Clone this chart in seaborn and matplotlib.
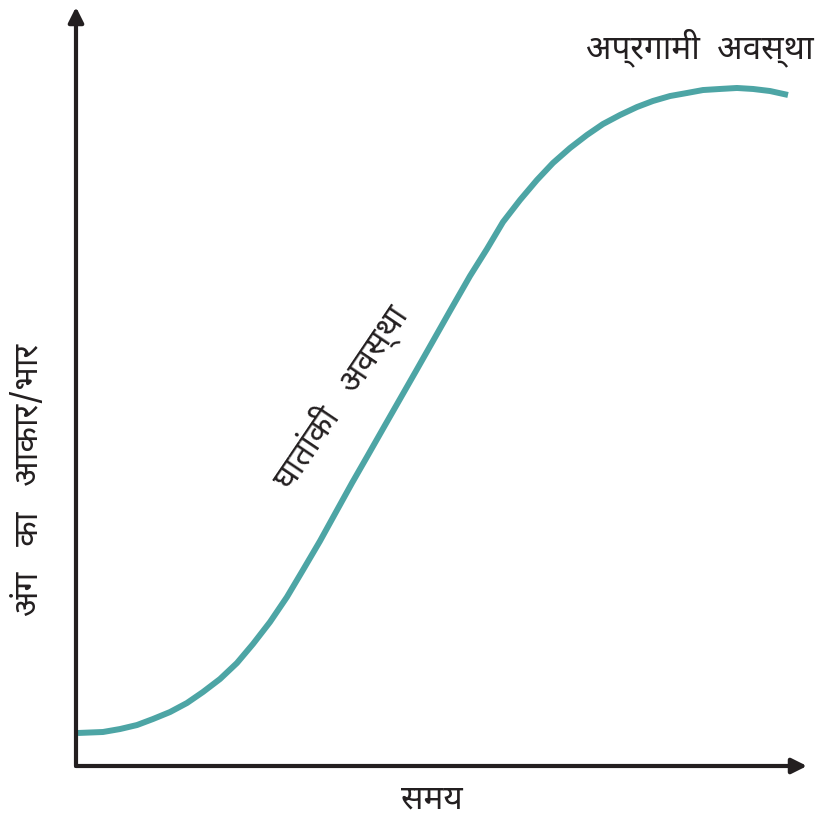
import matplotlib
matplotlib.use("Agg")
import matplotlib.pyplot as plt
import seaborn as sns
import pandas as pd

# curve (time vs organ size), arbitrary units 0..10
time = [0.027, 0.369, 0.602, 0.835, 1.053, 1.286, 1.518, 1.737, 1.970,
        2.202, 2.421, 2.654, 2.886, 3.105, 3.338, 3.557, 3.776, 3.995,
        4.213, 4.432, 4.651, 4.884, 5.116, 5.390, 5.622, 5.841, 6.074,
        6.306, 6.525, 6.758, 6.990, 7.209, 7.442, 7.674, 7.893, 8.126,
        8.358, 8.577, 8.810, 9.042, 9.261, 9.494, 9.740]
size = [0.435, 0.448, 0.487, 0.540, 0.619, 0.711, 0.830, 0.975, 1.146,
        1.357, 1.607, 1.897, 2.227, 2.582, 2.964, 3.347, 3.729, 4.097,
        4.466, 4.835, 5.204, 5.600, 5.995, 6.456, 6.812, 7.167, 7.457,
        7.721, 7.945, 8.142, 8.314, 8.458, 8.577, 8.682, 8.762, 8.827,
        8.867, 8.906, 8.920, 8.933, 8.920, 8.893, 8.841]

x_label = "समय"
y_label = "अंग   का   आकार/भार"
phase_labels = ["घातांकी   अवस्था", "अप्रगामी  अवस्था"]

sns.set_style("white")
plt.rcParams["font.family"] = ["Noto Sans Devanagari", "Lohit Devanagari",
                               "FreeSans", "Mukta", "DejaVu Sans"]

fig = plt.figure(figsize=(8.23, 8.26), dpi=100)
ax = fig.add_axes([76 / 823, 60 / 826, (807 - 76) / 823, (819 - 60) / 826])

df = pd.DataFrame({"time": time, "size": size})
sns.lineplot(data=df, x="time", y="size", ax=ax, color="#4da5a5",
             linewidth=4.3, solid_capstyle="butt", sort=False)

ax.set_xlim(0, 10)
ax.set_ylim(0, 10)
ax.set_xticks([])
ax.set_yticks([])
ax.set_xlabel("")
ax.set_ylabel("")
for s in ax.spines.values():
    s.set_visible(False)

# axis arrows
arrow = dict(arrowstyle="-|>,head_length=0.9,head_width=0.45", color="#231f20",
             lw=3, shrinkA=0, shrinkB=0)
ax.annotate("", xy=(1, 0), xytext=(0, 0), xycoords="axes fraction",
            arrowprops=arrow, annotation_clip=False)
ax.annotate("", xy=(0, 1), xytext=(0, 0), xycoords="axes fraction",
            arrowprops=arrow, annotation_clip=False)

# labels
fig.text(432 / 823, 1 - 800 / 826, x_label, ha="center", va="center",
         fontsize=24, color="#231f20")
fig.text(30 / 823, 1 - 480 / 826, y_label, ha="center", va="center",
         rotation=90, fontsize=24, color="#231f20")
fig.text(340 / 823, 1 - 397 / 826, phase_labels[0], ha="center", va="center",
         rotation=56, fontsize=24, color="#231f20")
fig.text(700 / 823, 1 - 48 / 826, phase_labels[1], ha="center", va="center",
         fontsize=24, color="#231f20")

fig.savefig("out.png", dpi=100)
